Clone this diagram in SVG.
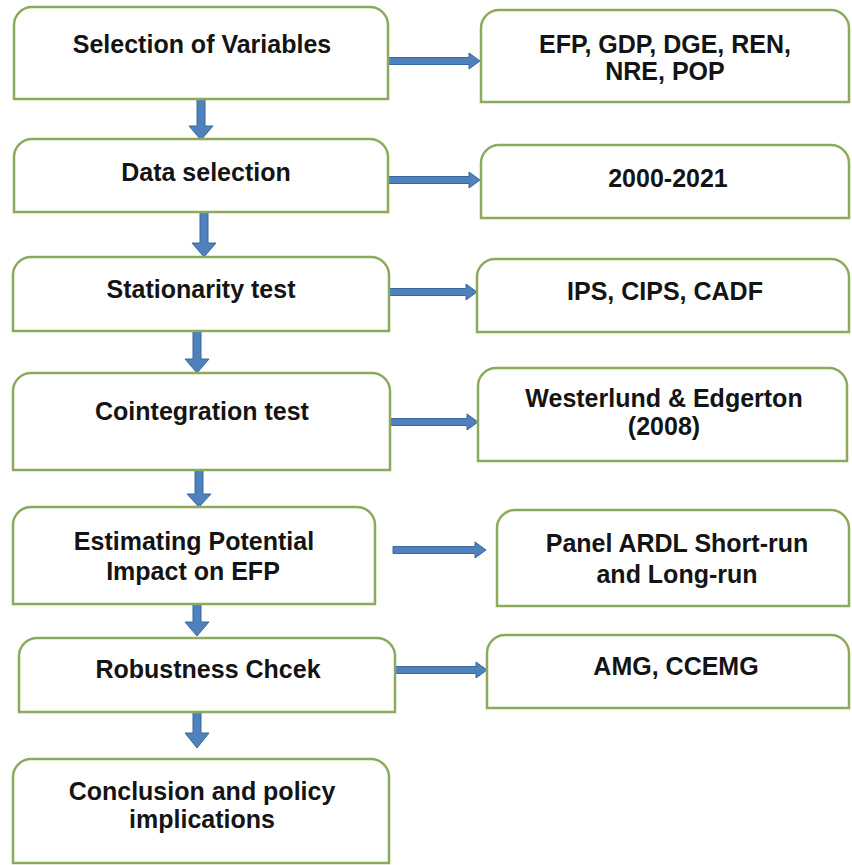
<svg xmlns="http://www.w3.org/2000/svg" width="852" height="865" viewBox="0 0 852 865">
<style>
.box{fill:#ffffff;stroke:#8BAA5C;stroke-width:2.5}
.lbl{font-family:"Liberation Sans",Arial,sans-serif;font-weight:bold;font-size:25px;fill:#141414;text-anchor:middle}
.arr{fill:#4F81BD;stroke:#3A679C;stroke-width:1}
</style>
<rect width="852" height="865" fill="#ffffff"/>
<g id="connectors">
<polygon class="arr" points="197,99 205,99 205,126 213,126 201,140 189,126 197,126"/>
<polygon class="arr" points="200,212 208,212 208,243 216,243 204,257 192,243 200,243"/>
<polygon class="arr" points="193,331 201,331 201,359 209,359 197,373 185,359 193,359"/>
<polygon class="arr" points="195,470 203,470 203,494 211,494 199,507 187,494 195,494"/>
<polygon class="arr" points="193,604 201,604 201,622 209,622 197,636 185,622 193,622"/>
<polygon class="arr" points="193,712 201,712 201,733 209,733 197,748 185,733 193,733"/>
<polygon class="arr" points="387,57.5 469,57.5 469,53 480,61 469,69 469,64.5 387,64.5"/>
<polygon class="arr" points="387,176.5 469,176.5 469,172 480,180 469,188 469,183.5 387,183.5"/>
<polygon class="arr" points="387,288.5 466,288.5 466,284 477,292 466,300 466,295.5 387,295.5"/>
<polygon class="arr" points="387,418.5 467,418.5 467,414 478,422 467,430 467,425.5 387,425.5"/>
<polygon class="arr" points="393,546.5 475,546.5 475,542 486,550 475,558 475,553.5 393,553.5"/>
<polygon class="arr" points="395,666.5 476,666.5 476,662 487,670 476,678 476,673.5 395,673.5"/>
</g>
<g id="n1">
<path class="box" d="M14,99 L14,25 A18,18 0 0 1 32,7 L370,7 A18,18 0 0 1 388,25 L388,99 Z"/>
<text class="lbl" x="202" y="53">Selection of Variables</text>
</g>
<g id="n2">
<path class="box" d="M14,212 L14,157 A18,18 0 0 1 32,139 L370,139 A18,18 0 0 1 388,157 L388,212 Z"/>
<text class="lbl" x="206" y="181">Data selection</text>
</g>
<g id="n3">
<path class="box" d="M13,331 L13,275 A18,18 0 0 1 31,257 L371,257 A18,18 0 0 1 389,275 L389,331 Z"/>
<text class="lbl" x="201" y="298">Stationarity test</text>
</g>
<g id="n4">
<path class="box" d="M13,470 L13,391 A18,18 0 0 1 31,373 L372,373 A18,18 0 0 1 390,391 L390,470 Z"/>
<text class="lbl" x="202" y="420">Cointegration test</text>
</g>
<g id="n5">
<path class="box" d="M13,604 L13,525 A18,18 0 0 1 31,507 L357,507 A18,18 0 0 1 375,525 L375,604 Z"/>
<text class="lbl" x="194" y="550">Estimating Potential</text>
<text class="lbl" x="193" y="580">Impact on EFP</text>
</g>
<g id="n6">
<path class="box" d="M19,712 L19,656 A18,18 0 0 1 37,638 L377,638 A18,18 0 0 1 395,656 L395,712 Z"/>
<text class="lbl" x="208" y="678">Robustness Chcek</text>
</g>
<g id="n7">
<path class="box" d="M13,863 L13,777 A18,18 0 0 1 31,759 L371,759 A18,18 0 0 1 389,777 L389,863 Z"/>
<text class="lbl" x="202" y="800">Conclusion and policy</text>
<text class="lbl" x="202" y="828">implications</text>
</g>
<g id="r1">
<path class="box" d="M481,102 L481,28 A18,18 0 0 1 499,10 L831,10 A18,18 0 0 1 849,28 L849,102 Z"/>
<text class="lbl" x="665" y="53">EFP, GDP, DGE, REN,</text>
<text class="lbl" x="665" y="80">NRE, POP</text>
</g>
<g id="r2">
<path class="box" d="M481,218 L481,163 A18,18 0 0 1 499,145 L831,145 A18,18 0 0 1 849,163 L849,218 Z"/>
<text class="lbl" x="668" y="187">2000-2021</text>
</g>
<g id="r3">
<path class="box" d="M477,332 L477,277 A18,18 0 0 1 495,259 L831,259 A18,18 0 0 1 849,277 L849,332 Z"/>
<text class="lbl" x="665" y="300">IPS, CIPS, CADF</text>
</g>
<g id="r4">
<path class="box" d="M478,461 L478,386 A18,18 0 0 1 496,368 L829,368 A18,18 0 0 1 847,386 L847,461 Z"/>
<text class="lbl" x="664" y="407">Westerlund &amp; Edgerton</text>
<text class="lbl" x="664" y="435">(2008)</text>
</g>
<g id="r5">
<path class="box" d="M497,606 L497,528 A18,18 0 0 1 515,510 L831,510 A18,18 0 0 1 849,528 L849,606 Z"/>
<text class="lbl" x="677" y="552">Panel ARDL Short-run</text>
<text class="lbl" x="677" y="583">and Long-run</text>
</g>
<g id="r6">
<path class="box" d="M487,708 L487,653 A18,18 0 0 1 505,635 L831,635 A18,18 0 0 1 849,653 L849,708 Z"/>
<text class="lbl" x="676" y="675">AMG, CCEMG</text>
</g>
</svg>
